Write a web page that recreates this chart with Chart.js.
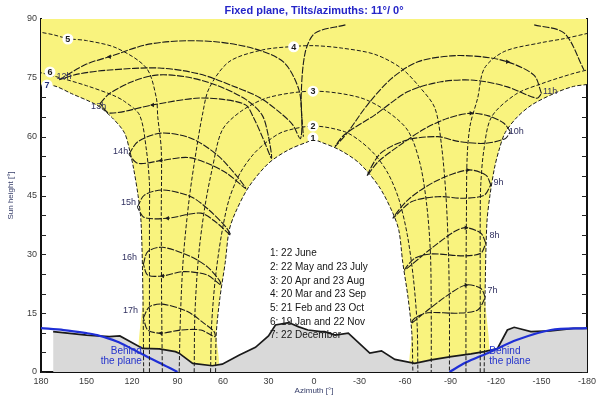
<!DOCTYPE html>
<html>
<head>
<meta charset="utf-8">
<script src="https://cdn.jsdelivr.net/npm/chart.js@4.4.1/dist/chart.umd.min.js"></script>
<style>
  html, body { margin: 0; padding: 0; background: #fff; }
</style>
</head>
<body>
<canvas id="chart" width="600" height="396"></canvas>
<script>
const FONT = 'Arial, "Liberation Sans", sans-serif';
const TITLE = "Fixed plane, Tilts/azimuths: 11°/ 0°";

// date curves (azimuth / sun height)
const c1Az = [64.9, 64.4, 62, 58.5, 56, 52, 43, 30, 17, 4, 0, -4, -17, -30, -43, -52, -56, -58.5, -62, -64.5, -65.2];
const c1El = [0, 10, 19, 28, 36, 40.5, 47.2, 53.2, 56.6, 58.7, 59.2, 58.7, 56.6, 53.2, 47.2, 40.5, 36, 28, 19, 10, 0];
const c2Az = [68.2, 67.5, 65, 61, 56, 49, 40, 30, 20, 0, -20, -30, -40, -49, -56, -61.5, -65.5, -68, -68.5];
const c2El = [0, 12, 24, 35, 44, 50.5, 55.5, 59, 61.3, 62.7, 61.3, 59, 55.5, 50.5, 44, 35, 24, 12, 0];
const c3Az = [79, 78.5, 76, 72, 67, 60.5, 48, 30, 0, -30, -48, -62, -70, -74.5, -76.8, -77.3, -77.3];
const c3El = [0, 15, 30, 42, 52, 61.7, 66.5, 70, 71.6, 70, 66.5, 61.5, 53, 42, 30, 15, 0];
const c4Az = [88.9, 88, 86, 82, 77, 73.6, 69.2, 56, 34.2, 13.4, 0, -18, -40, -57.4, -70, -79.7, -84, -87, -88.7, -89.3, -89.3];
const c4El = [0, 15, 30, 45, 58, 65.5, 72.3, 79.1, 82.1, 83, 83.2, 82.6, 81, 77.5, 72.5, 67.3, 58, 45, 30, 15, 0];
const c5LeftAz = [100, 100.5, 100.7, 100.7, 103, 104, 110.5, 130.2, 150, 162.3, 172, 180];
const c5LeftEl = [0, 20, 40, 56.6, 65, 70, 77.5, 82.6, 84.5, 85, 86, 86.6];
const c5RightAz = [-100.2, -100.2, -100.5, -101, -103, -107.9, -112.3, -125.4, -149, -165, -180];
const c5RightEl = [0, 20, 40, 55, 63, 69.8, 77.4, 81.7, 83.9, 85, 86.3];
const c6LeftAz = [108.5, 108.5, 108.5, 108.5, 110.5, 115, 125, 132.8, 150, 170, 180];
const c6LeftEl = [0, 20, 40, 48, 56.6, 65.5, 69, 70.6, 73, 75.3, 76.3];
const c6RightAz = [-109.6, -109.6, -109.6, -110, -112, -117, -133, -150, -170, -180];
const c6RightEl = [0, 20, 40, 48, 56.6, 65, 70.8, 73.5, 76, 77];
const c7LeftAz = [112.3, 112.8, 114, 116, 119, 121.6, 125, 133, 143, 160, 170.8, 180];
const c7LeftEl = [0, 20, 38, 45, 52, 56.6, 61, 64.8, 68, 71, 72.9, 73.2];
const c7RightAz = [-112.2, -112.8, -114, -116, -119, -122, -126, -134, -144, -160, -171, -180];
const c7RightEl = [0, 20, 38, 45, 52, 56.6, 61, 65, 68.2, 71.3, 72.8, 73.3];

// hour loops
const h12Az = [168, 150, 134.8, 111, 89, 65, 40, 20, 10, 8, 9, 14, 22, 36, 54, 75.7, 102, 134.8, 155, 168];
const h12El = [74.5, 78.5, 80.4, 83.4, 84.4, 84.2, 82.5, 79, 72, 64, 59.5, 63, 66, 70, 73, 76, 77.5, 77, 76, 74.5];
const h13Az = [141, 134.8, 120, 104, 85, 64.8, 45, 34.2, 30, 28, 33, 40, 45.1, 60, 77.9, 106.4, 134.8, 141];
const h13El = [68.5, 71, 74, 75.7, 75.3, 73.2, 69.5, 65.5, 60, 54.5, 59, 65, 68.1, 69.5, 69.8, 68.1, 66, 68.5];
const h14Az = [122, 116.2, 100.9, 81.2, 63.7, 50.6, 45.1, 57.2, 70.3, 83.4, 100.9, 116.2, 122];
const h14El = [55.5, 58.7, 60.9, 59.6, 55.3, 49.8, 46.8, 50.6, 53.2, 54.7, 53.9, 53.2, 55.5];
const h15Az = [116.5, 111.8, 99.8, 81.2, 69.2, 58.2, 55, 63.7, 74.6, 96.5, 111.8, 116.5];
const h15El = [42, 45.1, 46.4, 44.7, 41.3, 37, 34.9, 37.9, 40.5, 39.2, 39.4, 42];
const h16Az = [112.5, 109.6, 99.8, 81.2, 70.3, 62.6, 61.5, 70.3, 85.6, 99.8, 109.6, 112.5];
const h16El = [27.5, 30.7, 31.8, 29.4, 26.8, 23.5, 22.2, 24.7, 25.6, 24.5, 24.7, 27.5];
const h17Az = [112.5, 108.5, 99.8, 83.4, 72.5, 65.9, 65.4, 74.6, 87.7, 100.9, 109.6, 112.5];
const h17El = [13.8, 16.6, 17.3, 15.4, 12.4, 10.3, 9.0, 10.7, 10.7, 9.9, 10.7, 13.8];
const h7Az = [-113, -110, -100.2, -88.2, -75.1, -64.2, -66.4, -75.1, -94.8, -107.9, -113];
const h7El = [19, 21.3, 22.2, 19.6, 15.8, 12.4, 13.7, 15.1, 15.0, 15.8, 19];
const h8Az = [-113.3, -110, -100.2, -92.6, -77.3, -59.8, -66.4, -77.3, -99.1, -110, -113.3];
const h8El = [32.8, 35.4, 36.8, 35.8, 31.5, 26.0, 29.0, 30.1, 29.6, 30.3, 32.8];
const h9Az = [-116.6, -113.3, -101.3, -79.5, -62, -52.1, -64.2, -81.6, -99.1, -112.3, -116.6];
const h9El = [47.7, 50.2, 51.5, 48.5, 43.9, 39.2, 43.4, 44.7, 44.3, 45.1, 47.7];
const h10Az = [-129.5, -125, -115, -103.5, -88.2, -72.9, -55.4, -42, -35, -44, -62, -81.6, -95, -112.2, -126, -129.5];
const h10El = [61.3, 63.5, 65.3, 66, 64.7, 62, 57.5, 53.5, 50, 55.8, 59.2, 60, 58.8, 58.3, 59.5, 61.3];
const h11Az = [-150, -145, -127.5, -110, -90.4, -68.5, -51, -35, -22, -14, -20, -40, -62, -83.8, -105.7, -127.5, -147, -150];
const h11El = [71, 75.7, 79.1, 80.4, 80.6, 79.1, 74.8, 68, 61, 57.5, 60.5, 65.5, 71.5, 74, 74.4, 72.7, 69.8, 71];
const wrapLeftAz = [-20.7, -0.7, 5.9, 8.5, 7];
const wrapLeftEl = [88.5, 86.4, 81.3, 69.4, 60];
const wrapRightAz = [-145.2, -165, -178];
const wrapRightEl = [88.5, 86.4, 77];

// direction arrows on the hour loops
const arrowLeftAz = [134.8, 106.4, 100.9, 96.5, 99.8, 100.9];
const arrowLeftEl = [80.4, 68.1, 53.9, 39.2, 24.5, 9.9];
const arrowRightAz = [-127.5, -103.5, -101.3, -100.2, -100.2];
const arrowRightEl = [79.1, 66, 51.5, 36.8, 22.2];

// far horizon profile and plane limits
const horizonAz = [172, 150, 135, 128, 113, 102, 91.4, 89, 80, 67, 60.5, 49.5, 38.6, 30, 25.4, 16.7, 10, 4, -4.6, -7, -14, -22.6, -36.8, -44.5, -53.3, -66.4, -77.3, -90.4, -103.5, -112.3, -121, -127.5, -132, -143, -156, -171, -180];
const horizonEl = [10.3, 9.4, 9.0, 9.2, 6.0, 5.9, 5.2, 4.8, 2.2, 1.6, 2.0, 4.3, 6.3, 9.2, 12.0, 12.6, 11.5, 10.7, 10.3, 10.3, 9.4, 9.9, 4.8, 5.4, 3.2, 2.2, 3.1, 3.9, 4.6, 5.2, 6.0, 10.7, 11.4, 10.3, 10.5, 11.1, 11.1];
const planeLeftAz = [180, 165, 150, 143, 130, 120, 110, 100, 90];
const planeLeftEl = [11.2, 10.7, 9.9, 9.4, 7.8, 5.9, 3.9, 2.0, 0];
const planeRightAz = [-89.3, -100, -114.4, -134, -156, -180];
const planeRightEl = [0, 2.4, 4.8, 8.2, 10.7, 11.2];

// labels
const dateLabels = ["1", "2", "3", "4", "5", "6", "7"];
const dateLabelAz = [0.7, 0.7, 0.7, 13.4, 162.3, 174.1, 176];
const dateLabelEl = [59.7, 62.7, 71.6, 82.9, 84.9, 76.5, 73.2];
const hourLabels = ["12h", "13h", "14h", "15h", "16h", "17h", "11h", "10h", "9h", "8h", "7h"];
const hourLabelAz = [164.9, 142, 127.5, 122.3, 121.6, 121, -155.7, -133.4, -121.6, -119, -117.7];
const hourLabelEl = [75.3, 67.8, 56.1, 43.1, 29.3, 15.6, 71.6, 61.2, 48.4, 34.7, 20.7];
const legendLines = [
  "1: 22 June",
  "2: 22 May and 23 July",
  "3: 20 Apr and 23 Aug",
  "4: 20 Mar and 23 Sep",
  "5: 21 Feb and 23 Oct",
  "6: 19 Jan and 22 Nov",
  "7: 22 December",
];

const pts = (az, el) => az.map((a, i) => ({ x: a, y: el[i] }));

const yellowAz = [...c7LeftAz].reverse().concat(c1Az, c7RightAz);
const yellowEl = [...c7LeftEl].reverse().concat(c1El, c7RightEl);

const curve = (az, el, extra) => ({
  data: pts(az, el),
  showLine: true,
  borderColor: "#1c1c1c",
  borderWidth: 1,
  pointRadius: 0,
  tension: 0.3,
  fill: false,
  ...extra,
});
const dateCurve = (az, el) => curve(az, el, { borderDash: [4, 2], order: 5 });
const hourLoop = (az, el) => curve(az, el, { borderDash: [7, 1.5], borderWidth: 1.1, order: 4 });
const arrows = (az, el, rotation) => ({
  data: pts(az, el),
  showLine: false,
  pointStyle: "triangle",
  pointRadius: 2.6,
  pointRotation: rotation,
  pointBackgroundColor: "#1c1c1c",
  pointBorderWidth: 0,
  order: 3,
});

const GRAY_INDEX = 1;

const datasets = [
  curve(yellowAz, yellowEl, { borderColor: "rgba(0,0,0,0)", borderWidth: 0, fill: "end", backgroundColor: "#f9f37e", order: 10 }),
  curve(horizonAz, horizonEl, { borderColor: "rgba(0,0,0,0)", borderWidth: 0, tension: 0, fill: "origin", backgroundColor: "#d9d9d9", order: 9 }),
  curve(horizonAz, horizonEl, { borderColor: "#1a1a1a", borderWidth: 1.7, tension: 0, order: 8 }),
  curve(planeLeftAz, planeLeftEl, { borderColor: "#1f2fd6", borderWidth: 2.2, order: 7 }),
  curve(planeRightAz, planeRightEl, { borderColor: "#1f2fd6", borderWidth: 2.2, order: 7 }),
  dateCurve(c1Az, c1El),
  dateCurve(c2Az, c2El),
  dateCurve(c3Az, c3El),
  dateCurve(c4Az, c4El),
  dateCurve(c5LeftAz, c5LeftEl),
  dateCurve(c5RightAz, c5RightEl),
  dateCurve(c6LeftAz, c6LeftEl),
  dateCurve(c6RightAz, c6RightEl),
  dateCurve(c7LeftAz, c7LeftEl),
  dateCurve(c7RightAz, c7RightEl),
  hourLoop(h12Az, h12El),
  hourLoop(h13Az, h13El),
  hourLoop(h14Az, h14El),
  hourLoop(h15Az, h15El),
  hourLoop(h16Az, h16El),
  hourLoop(h17Az, h17El),
  hourLoop(h7Az, h7El),
  hourLoop(h8Az, h8El),
  hourLoop(h9Az, h9El),
  hourLoop(h10Az, h10El),
  hourLoop(h11Az, h11El),
  hourLoop(wrapLeftAz, wrapLeftEl),
  hourLoop(wrapRightAz, wrapRightEl),
  arrows(arrowLeftAz, arrowLeftEl, 270),
  arrows(arrowRightAz, arrowRightEl, 90),
];

// plot frame top edge and inward tick marks, under the yellow area
const framePlugin = {
  id: "frame",
  beforeDatasetsDraw(chart) {
    const { ctx, chartArea: a, scales: { y } } = chart;
    ctx.save();
    ctx.strokeStyle = "#8c8c5a";
    ctx.lineWidth = 1;
    ctx.beginPath();
    ctx.moveTo(a.left, a.top + 0.5);
    ctx.lineTo(a.right, a.top + 0.5);
    ctx.stroke();
    ctx.strokeStyle = "#222";
    ctx.beginPath();
    y.ticks.forEach(({ value }) => {
      const py = Math.round(y.getPixelForValue(value)) + 0.5;
      ctx.moveTo(a.left, py);
      ctx.lineTo(a.left + 5, py);
      ctx.moveTo(a.right, py);
      ctx.lineTo(a.right - 5, py);
    });
    ctx.stroke();
    ctx.restore();
  },
};

const textPlugin = {
  id: "texts",
  afterDatasetDraw(chart, args) {
    if (args.index !== GRAY_INDEX) return;
    const { ctx } = chart;
    ctx.save();
    ctx.font = `10px ${FONT}`;
    ctx.fillStyle = "#151515";
    ctx.textAlign = "left";
    ctx.textBaseline = "middle";
    legendLines.forEach((t, i) => ctx.fillText(t, 270, 253.5 + i * 13.7));
    ctx.restore();
  },
  afterDatasetsDraw(chart) {
    const { ctx, chartArea: a, scales: { x, y } } = chart;
    const px = (v) => x.getPixelForValue(v);
    const py = (v) => y.getPixelForValue(v);
    ctx.save();
    ctx.textBaseline = "middle";
    ctx.textAlign = "center";

    ctx.font = `bold 11px ${FONT}`;
    ctx.fillStyle = "#2525c8";
    ctx.fillText(TITLE, (a.left + a.right) / 2, 10.5);

    ctx.font = `8px ${FONT}`;
    ctx.fillStyle = "#343c68";
    ctx.fillText("Azimuth [°]", (a.left + a.right) / 2, 390.5);
    ctx.save();
    ctx.translate(11, (a.top + a.bottom) / 2);
    ctx.rotate(-Math.PI / 2);
    ctx.fillText("Sun height [°]", 0, 0);
    ctx.restore();

    dateLabels.forEach((t, i) => {
      const cx = px(dateLabelAz[i]);
      const cy = py(dateLabelEl[i]);
      ctx.fillStyle = "#fff";
      ctx.beginPath();
      ctx.arc(cx, cy, 5.5, 0, Math.PI * 2);
      ctx.fill();
      ctx.font = `bold 9px ${FONT}`;
      ctx.fillStyle = i === 6 ? "#24307a" : "#1c1c1c";
      ctx.fillText(t, cx, cy + 0.5);
    });

    ctx.font = `9px ${FONT}`;
    ctx.fillStyle = "#303060";
    hourLabels.forEach((t, i) => ctx.fillText(t, px(hourLabelAz[i]), py(hourLabelEl[i])));

    ctx.font = `10px ${FONT}`;
    ctx.fillStyle = "#2433cc";
    ctx.textAlign = "right";
    ctx.fillText("Behind", px(113.5), py(5.4));
    ctx.fillText("the plane", px(113.5), py(2.8));
    ctx.textAlign = "left";
    ctx.fillText("Behind", px(-115.6), py(5.4));
    ctx.fillText("the plane", px(-115.6), py(2.8));
    ctx.restore();
  },
};

const border = { display: true, color: "#111", width: 2 };

new Chart(document.getElementById("chart"), {
  type: "line",
  data: { datasets },
  options: {
    responsive: false,
    animation: false,
    devicePixelRatio: 1,
    layout: { padding: { top: 19 } },
    plugins: { legend: { display: false }, tooltip: { enabled: false }, title: { display: false } },
    scales: {
      x: {
        type: "linear",
        min: -180,
        max: 180,
        reverse: true,
        afterFit: (s) => { s.height = 24; },
        ticks: { stepSize: 30, color: "#3a3a3a", font: { size: 9, family: FONT }, padding: 4, maxRotation: 0 },
        grid: { display: false, drawTicks: false },
        border,
      },
      y: {
        type: "linear",
        min: 0,
        max: 90,
        afterFit: (s) => { s.width = 41; },
        ticks: {
          stepSize: 5,
          autoSkip: false,
          color: "#3a3a3a",
          font: { size: 9, family: FONT },
          padding: 4,
          callback: (v) => (v % 15 === 0 ? v : ""),
        },
        grid: { display: false, drawTicks: false },
        border,
      },
      y2: {
        type: "linear",
        position: "right",
        min: 0,
        max: 90,
        afterFit: (s) => { s.width = 10; },
        ticks: { display: false },
        grid: { display: false, drawTicks: false },
        border,
      },
    },
  },
  plugins: [framePlugin, textPlugin],
});
</script>
</body>
</html>
